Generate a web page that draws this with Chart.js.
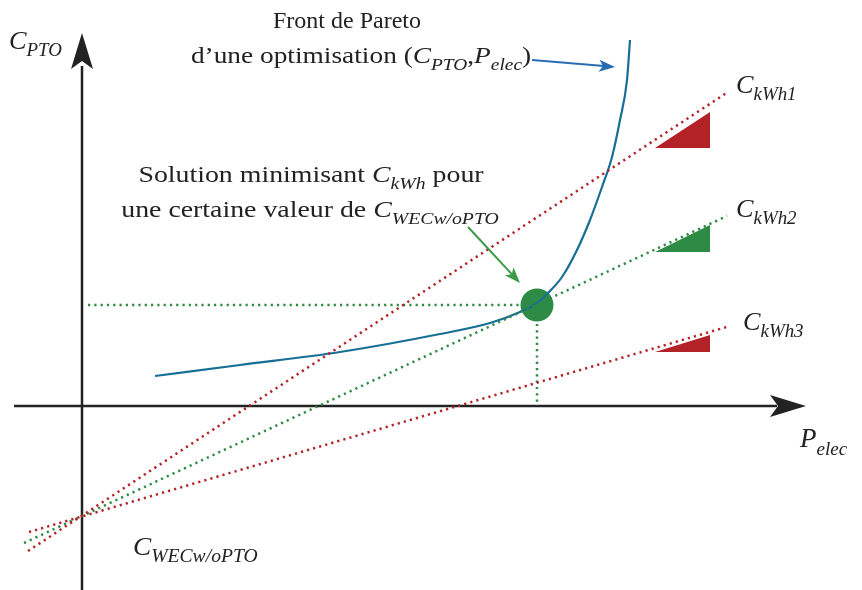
<!DOCTYPE html>
<html>
<head>
<meta charset="utf-8">
<script src="https://cdn.jsdelivr.net/npm/chart.js@4"></script>
<style>
  html, body { margin: 0; padding: 0; background: #fff; }
</style>
</head>
<body>
<canvas id="pareto" width="862" height="590"></canvas>
<script>
// schematic units: origin where the axes cross
const paretoX = [73, 158, 258, 358, 408, 438, 455, 466, 480, 495, 508, 520, 530, 538, 545, 548];
const paretoY = [30, 41, 54, 72, 83, 94, 103, 113, 129, 156, 186, 219, 249, 286, 326, 366];

const optimum = { x: 455, y: 101 };

// C_kWh iso-lines (start / end points), all crossing at C_WEC w/o PTO
const isoKwh1 = [{ x: -54, y: -145 }, { x: 646, y: 314 }];
const isoKwh2 = [{ x: -58, y: -137 }, { x: 645, y: 190 }];
const isoKwh3 = [{ x: -53, y: -126 }, { x: 648, y: 80 }];

// slope triangles
const tri1 = [{ x: 573, y: 258 }, { x: 628, y: 294 }, { x: 628, y: 258 }, { x: 573, y: 258 }];
const tri2 = [{ x: 573, y: 154 }, { x: 628, y: 181 }, { x: 628, y: 154 }, { x: 573, y: 154 }];
const tri3 = [{ x: 573, y: 54 }, { x: 628, y: 71 }, { x: 628, y: 54 }, { x: 573, y: 54 }];

const red = '#b22227';
const green = '#2e8b45';
const blue = '#186f95';

const dotted = { borderDash: [2.2, 4.1], borderWidth: 2.5, borderCapStyle: 'butt', pointRadius: 0, showLine: true, fill: false };

function triangle(points, color) {
  return { data: points, showLine: true, borderWidth: 0, borderColor: color, backgroundColor: color, pointRadius: 0, fill: 'shape', tension: 0 };
}

// text helper: parts = [text, 'r' | 'i' | 's'], sx widens the serif a bit
function drawRich(ctx, parts, x, y, size, align, sx) {
  const font = (st) => {
    if (st === 'r') return size + 'px "Liberation Serif"';
    if (st === 'i') return 'italic ' + size + 'px "Liberation Serif"';
    return 'italic ' + Math.round(size * 0.7) + 'px "Liberation Serif"';
  };
  let w = 0;
  parts.forEach(p => { ctx.font = font(p[1]); w += ctx.measureText(p[0]).width; });
  ctx.save();
  ctx.translate(x, y);
  ctx.scale(sx || 1, 1);
  let cx = align === 'center' ? -w / 2 : 0;
  ctx.textBaseline = 'alphabetic';
  ctx.textAlign = 'left';
  parts.forEach(p => {
    ctx.font = font(p[1]);
    const dy = p[1] === 's' ? size * 0.28 : 0;
    ctx.fillText(p[0], cx, dy);
    cx += ctx.measureText(p[0]).width;
  });
  ctx.restore();
}

function arrowHead(ctx, x, y, ang, len, half, notch, color) {
  ctx.save();
  ctx.translate(x, y);
  ctx.rotate(ang);
  ctx.fillStyle = color;
  ctx.beginPath();
  ctx.moveTo(0, 0);
  ctx.lineTo(-len, -half);
  ctx.lineTo(-len + notch, 0);
  ctx.lineTo(-len, half);
  ctx.closePath();
  ctx.fill();
  ctx.restore();
}

const labels = [
  { at: [-73, 357], size: 25, align: 'left', sx: 1.05, parts: [['C', 'i'], ['PTO', 's']] },
  { at: [265, 378], size: 24, align: 'center', sx: 1.0, parts: [['Front de Pareto', 'r']] },
  { at: [279, 343], size: 24, align: 'center', sx: 1.14, parts: [['d\u2019une optimisation (', 'r'], ['C', 'i'], ['PTO', 's'], [',', 'r'], ['P', 'i'], ['elec', 's'], [')', 'r']] },
  { at: [229, 224], size: 24, align: 'center', sx: 1.16, parts: [['Solution minimisant ', 'r'], ['C', 'i'], ['kWh', 's'], [' pour', 'r']] },
  { at: [228, 189], size: 24, align: 'center', sx: 1.16, parts: [['une certaine valeur de ', 'r'], ['C', 'i'], ['WECw/oPTO', 's']] },
  { at: [654, 313], size: 25, align: 'left', sx: 1.05, parts: [['C', 'i'], ['kWh1', 's']] },
  { at: [654, 189], size: 25, align: 'left', sx: 1.05, parts: [['C', 'i'], ['kWh2', 's']] },
  { at: [661, 76], size: 25, align: 'left', sx: 1.05, parts: [['C', 'i'], ['kWh3', 's']] },
  { at: [718, -41], size: 27, align: 'left', sx: 1.0, parts: [['P', 'i'], ['elec', 's']] },
  { at: [51, -149], size: 25, align: 'left', sx: 1.09, parts: [['C', 'i'], ['WECw/oPTO', 's']] }
];

// annotation arrows: [from, to, colour]
const pointers = [
  [[450, 346], [533, 339], '#2a6cb4'],
  [[386, 179], [438, 123], '#3c9a47']
];

const axesPlugin = {
  id: 'axesPlugin',
  beforeDatasetsDraw(chart) {
    const { ctx, scales: { x, y } } = chart;
    const ox = x.getPixelForValue(0), oy = y.getPixelForValue(0);
    ctx.save();
    ctx.strokeStyle = '#222';
    ctx.lineWidth = 2.5;
    ctx.beginPath();
    ctx.moveTo(x.getPixelForValue(-68), oy);
    ctx.lineTo(x.getPixelForValue(695), oy);
    ctx.moveTo(ox, y.getPixelForValue(-184));
    ctx.lineTo(ox, y.getPixelForValue(340));
    ctx.stroke();
    arrowHead(ctx, x.getPixelForValue(724), oy, 0, 36, 11, 8, '#222');
    arrowHead(ctx, ox, y.getPixelForValue(373), -Math.PI / 2, 36, 11, 8, '#222');
    ctx.restore();
  },
  afterDatasetsDraw(chart) {
    const { ctx, scales: { x, y } } = chart;
    ctx.save();
    pointers.forEach(([a, b, col]) => {
      const x1 = x.getPixelForValue(a[0]), y1 = y.getPixelForValue(a[1]);
      const x2 = x.getPixelForValue(b[0]), y2 = y.getPixelForValue(b[1]);
      const ang = Math.atan2(y2 - y1, x2 - x1);
      ctx.strokeStyle = col;
      ctx.lineWidth = 2;
      ctx.beginPath();
      ctx.moveTo(x1, y1);
      ctx.lineTo(x2 - Math.cos(ang) * 8, y2 - Math.sin(ang) * 8);
      ctx.stroke();
      arrowHead(ctx, x2, y2, ang, 16, 6, 4, col);
    });
    ctx.fillStyle = '#222';
    labels.forEach(l => {
      drawRich(ctx, l.parts, x.getPixelForValue(l.at[0]), y.getPixelForValue(l.at[1]), l.size, l.align, l.sx);
    });
    ctx.restore();
  }
};

new Chart(document.getElementById('pareto'), {
  type: 'scatter',
  data: {
    datasets: [
      triangle(tri1, red),
      triangle(tri2, green),
      triangle(tri3, red),
      { ...dotted, data: isoKwh1, borderColor: red },
      { ...dotted, data: isoKwh2, borderColor: green },
      { ...dotted, data: isoKwh3, borderColor: red },
      { ...dotted, data: [{ x: 6, y: optimum.y }, { x: optimum.x, y: optimum.y }], borderColor: green },
      { ...dotted, data: [{ x: optimum.x, y: optimum.y }, { x: optimum.x, y: 0 }], borderColor: green },
      {
        data: paretoX.map((v, i) => ({ x: v, y: paretoY[i] })),
        showLine: true, borderColor: blue, borderWidth: 2.2, pointRadius: 0,
        cubicInterpolationMode: 'monotone', fill: false
      },
      {
        data: [optimum], pointRadius: 16.5, pointHoverRadius: 16.5,
        backgroundColor: green, borderColor: green, borderWidth: 0
      }
    ]
  },
  options: {
    responsive: false,
    animation: false,
    devicePixelRatio: 1,
    layout: { padding: 0, autoPadding: false },
    plugins: { legend: { display: false }, tooltip: { enabled: false } },
    scales: {
      x: { type: 'linear', min: -82, max: 780, display: false },
      y: { type: 'linear', min: -184, max: 406, display: false }
    }
  },
  plugins: [axesPlugin]
});
</script>
</body>
</html>
